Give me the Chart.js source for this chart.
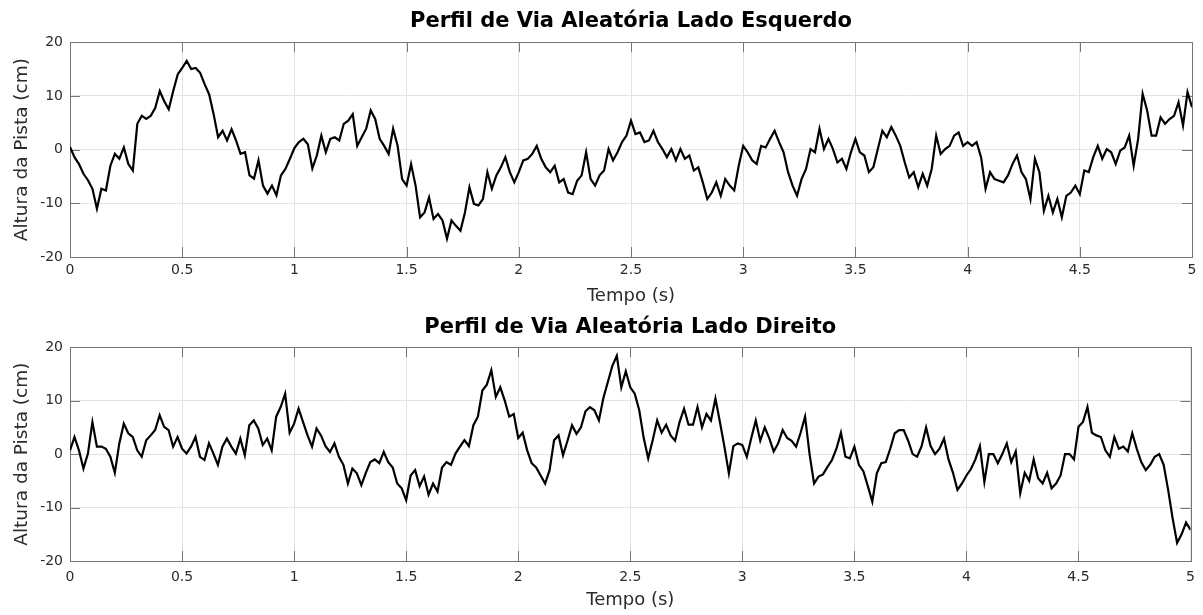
<!DOCTYPE html>
<html>
<head>
<meta charset="utf-8">
<title>Perfil de Via Aleatória</title>
<script src="https://cdn.jsdelivr.net/npm/chart.js@4.4.1/dist/chart.umd.min.js"></script>
<style>
  html, body { margin: 0; padding: 0; background: #fff; }
  #wrap { position: relative; width: 1203px; height: 615px; }
  canvas { position: absolute; left: 0; }
  #esquerdo { top: 0; }
  #direito { top: 307px; }
</style>
</head>
<body>
<div id="wrap">
  <canvas id="esquerdo" width="1203" height="307"></canvas>
  <canvas id="direito" width="1203" height="308"></canvas>
</div>
<script>
const dt = 0.02
const xTicks = [0, 0.5, 1, 1.5, 2, 2.5, 3, 3.5, 4, 4.5, 5]
const yTicks = [-20, -10, 0, 10, 20]

const ladoEsquerdo = [
  0.5, -1.4, -2.7, -4.5, -5.7, -7.3, -11, -7.3, -7.6, -3,
  -0.8, -1.7, 0.4, -2.7, -3.9, 4.8, 6.3, 5.7, 6.3, 7.8,
  10.9, 9, 7.5, 10.9, 14, 15.2, 16.5, 15, 15.2, 14.3,
  12.2, 10.3, 6.6, 2.3, 3.5, 1.7, 3.8, 1.7, -0.8, -0.5,
  -4.8, -5.4, -2, -6.7, -8.2, -6.7, -8.5, -4.8, -3.6, -1.7,
  0.3, 1.4, 2, 1, -3.5, -1.1, 2.6, -0.5, 2, 2.3,
  1.7, 4.8, 5.4, 6.6, 0.7, 2.3, 3.9, 7.3, 5.7, 2,
  0.7, -0.8, 3.9, 0.7, -5.5, -6.7, -2.7, -6.7, -12.6, -11.7,
  -8.9, -12.9, -12, -13.2, -16.6, -13.2, -14.2, -15.1, -11.7, -7,
  -10.1, -10.4, -9.2, -4.2, -7.3, -4.8, -3.3, -1.4, -4.2, -6.1,
  -4.2, -2, -1.7, -0.8, 0.7, -1.7, -3.3, -4.2, -3, -6.1,
  -5.5, -8, -8.3, -5.8, -4.8, -0.5, -5.5, -6.7, -4.8, -3.9,
  0.1, -2, -0.5, 1.4, 2.6, 5.4, 2.9, 3.2, 1.4, 1.7,
  3.5, 1.4, 0.1, -1.4, 0.1, -2, 0.1, -1.7, -1.1, -3.9,
  -3.3, -6.1, -9.2, -8, -6.1, -8.6, -5.5, -6.7, -7.6, -3,
  0.7, -0.5, -2, -2.7, 0.7, 0.4, 2, 3.5, 1.4, -0.5,
  -4.2, -6.7, -8.6, -5.5, -3.6, 0.1, -0.5, 3.9, 0.1, 2,
  0.1, -2.4, -1.7, -3.6, -0.5, 2, -0.5, -1.1, -4.2, -3.3,
  0.1, 3.5, 2.3, 4.2, 2.6, 0.7, -2.4, -5.2, -4.2, -7,
  -4.5, -6.7, -3.6, 2.6, -0.8, 0.1, 0.7, 2.6, 3.2, 0.7,
  1.4, 0.7, 1.4, -1.4, -7.3, -4.2, -5.5, -5.8, -6.1, -4.8,
  -2.7, -1.1, -4.2, -5.5, -9.2, -1.7, -4.2, -11.4, -8.6, -11.7,
  -9.2, -12.6, -8.6, -8, -6.7, -8.3, -3.9, -4.2, -1.4, 0.7,
  -1.7, 0.1, -0.5, -2.7, -0.2, 0.4, 2.6, -3, 2, 10.4,
  7.3, 2.6, 2.6, 6, 4.8, 5.7, 6.3, 8.8, 4.5, 10.7,
  7.9
]

const ladoDireito = [
  0.7, 3.2, 0.7, -2.7, 0.1, 6, 1.4, 1.4, 1, -0.5,
  -3.5, 2, 5.7, 3.9, 3.2, 0.7, -0.5, 2.6, 3.5, 4.5,
  7.3, 5.1, 4.5, 1.4, 3.2, 1, 0.1, 1.4, 3.2, -0.5,
  -1.1, 2, 0.1, -2, 1.4, 2.9, 1.4, 0.1, 2.9, -0.2,
  5.4, 6.3, 4.8, 1.7, 2.9, 0.7, 7, 8.8, 11.3, 4,
  5.7, 8.5, 6, 3.5, 1.4, 4.8, 3.5, 1.5, 0.4, 2,
  -0.5, -2, -5.5, -2.7, -3.6, -5.8, -3.5, -1.5, -1, -1.7,
  0.4, -1.5, -2.5, -5.5, -6.4, -8.6, -4, -3, -6, -4.2,
  -7.6, -5.5, -7, -2.5, -1.5, -2, 0.1, 1.4, 2.6, 1.5,
  5.4, 7, 11.9, 13, 15.7, 10.7, 12.5, 10, 7, 7.5,
  3, 4, 0.7, -1.7, -2.5, -4, -5.5, -3, 2.6, 3.5,
  -0.2, 2.5, 5.4, 3.8, 5, 8, 8.8, 8.2, 6.3, 10.5,
  13.5, 16.5, 18.4, 12.5, 15.5, 12.5, 11.3, 8.2, 3, -0.8,
  2.6, 6.3, 4, 5.5, 3.5, 2.5, 6, 8.5, 5.5, 5.5,
  8.8, 5, 7.5, 6.3, 10.4, 6, 1.4, -3.6, 1.5, 2,
  1.7, -0.5, 3, 6.3, 2.5, 5, 3, 0.5, 2, 4.5,
  3, 2.5, 1.4, 4, 7, 0, -5.5, -4.2, -3.8, -2.4,
  -1.1, 1, 4, -0.5, -0.8, 1.4, -2, -3.2, -6, -8.9,
  -3.6, -1.7, -1.5, 1, 3.9, 4.5, 4.5, 2.5, 0, -0.5,
  1.5, 5, 1.5, 0, 1, 2.9, -1, -3.5, -6.7, -5.5,
  -4, -2.8, -1, 1.5, -5.2, 0, 0, -1.7, 0, 2,
  -1.5, 0.5, -7.3, -3.5, -5, -1, -4.5, -5.5, -3.5, -6.4,
  -5.5, -4, 0, 0, -1, 5.1, 6, 8.8, 4, 3.5,
  3.2, 0.7, -0.5, 3.2, 1, 1.4, 0.5, 3.9, 1, -1.5,
  -3, -2, -0.5, 0, -2, -6.7, -12, -16.6, -15, -12.8,
  -14.2
]

const fonte = '"DejaVu Sans", sans-serif'

// caixa do eixo com marcas para dentro, como no matlab
const caixa = {
  id: 'caixa',
  beforeDatasetsDraw(chart) {
    const { ctx, chartArea: a, scales: { x, y } } = chart
    ctx.save()
    ctx.strokeStyle = '#767676'
    ctx.lineWidth = 1
    ctx.beginPath()
    xTicks.forEach(v => {
      const px = Math.round(x.getPixelForValue(v)) + 0.5
      ctx.moveTo(px, a.bottom)
      ctx.lineTo(px, a.bottom - 10)
      ctx.moveTo(px, a.top)
      ctx.lineTo(px, a.top + 10)
    })
    yTicks.forEach(v => {
      const py = Math.round(y.getPixelForValue(v)) + 0.5
      ctx.moveTo(a.left, py)
      ctx.lineTo(a.left + 10, py)
      ctx.moveTo(a.right, py)
      ctx.lineTo(a.right - 10, py)
    })
    ctx.stroke()
    ctx.strokeRect(Math.round(a.left) + 0.5, Math.round(a.top) + 0.5,
      Math.round(a.right - a.left), Math.round(a.bottom - a.top))
    ctx.restore()
  }
}

function perfil(id, titulo, valores, lay) {
  return new Chart(document.getElementById(id), {
    type: 'line',
    data: {
      datasets: [{
        data: valores.map((v, i) => ({ x: i * dt, y: v })),
        borderColor: '#000',
        borderWidth: 2.2,
        pointRadius: 0,
        tension: 0
      }]
    },
    options: {
      responsive: false,
      animation: false,
      devicePixelRatio: 1,
      layout: { padding: { left: 0, right: 11, top: 0, bottom: 0 } },
      plugins: {
        legend: { display: false },
        tooltip: { enabled: false },
        title: {
          display: true,
          fullSize: false,
          text: titulo,
          color: '#000',
          font: { family: fonte, size: 21, weight: 'bold' },
          padding: { top: lay.tituloTopo, bottom: lay.tituloBase }
        }
      },
      scales: {
        x: {
          type: 'linear',
          min: 0,
          max: 5,
          afterBuildTicks: s => { s.ticks = xTicks.map(v => ({ value: v })) },
          afterFit: s => { s.height = lay.alturaX },
          grid: { color: '#e3e3e3', drawTicks: false },
          border: { display: false },
          ticks: {
            padding: lay.padX,
            color: '#2b2b2b',
            font: { family: fonte, size: 14 },
            maxRotation: 0,
            autoSkip: false,
            callback: v => String(v)
          },
          title: {
            display: true,
            text: 'Tempo (s)',
            color: '#2b2b2b',
            font: { family: fonte, size: 18 },
            padding: { top: 0, bottom: lay.padTituloX }
          }
        },
        y: {
          min: -20,
          max: 20,
          afterBuildTicks: s => { s.ticks = yTicks.map(v => ({ value: v })) },
          afterFit: s => { s.width = 70 },
          grid: { color: '#e3e3e3', drawTicks: false },
          border: { display: false },
          ticks: {
            padding: 7,
            color: '#2b2b2b',
            font: { family: fonte, size: 14 },
            callback: v => String(v)
          },
          title: {
            display: true,
            text: 'Altura da Pista (cm)',
            color: '#2b2b2b',
            font: { family: fonte, size: 18.5 },
            padding: { top: 11, bottom: 0 }
          }
        }
      }
    },
    plugins: [caixa]
  })
}

perfil('esquerdo', 'Perfil de Via Aleatória Lado Esquerdo', ladoEsquerdo,
  { tituloTopo: 9, tituloBase: 8, alturaX: 50, padX: 5, padTituloX: 0 })
perfil('direito', 'Perfil de Via Aleatória Lado Direito', ladoDireito,
  { tituloTopo: 8, tituloBase: 7, alturaX: 54, padX: 8, padTituloX: 4 })
</script>
</body>
</html>
